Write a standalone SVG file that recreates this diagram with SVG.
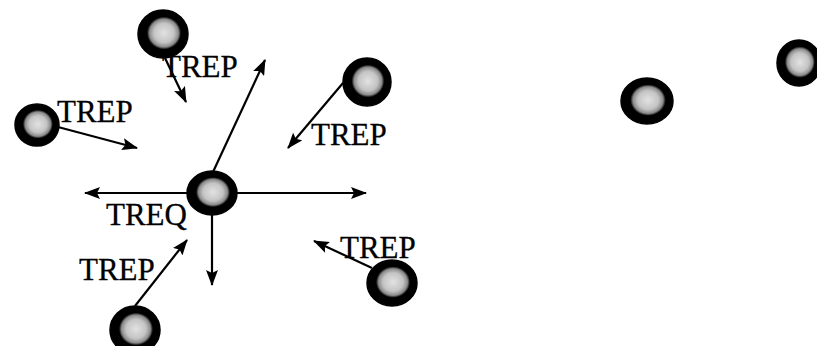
<svg xmlns="http://www.w3.org/2000/svg" width="817" height="346" viewBox="0 0 817 346">
<style>
.lbl{font-family:"Liberation Serif","Times New Roman",serif;font-size:31px;fill:#000;stroke:#000;stroke-width:0.3}
.cn{stroke:#000;stroke-width:2.2;fill:none;marker-end:url(#ah)}
.nd{fill:url(#speck);stroke:#000;stroke-width:1.5}
</style>
<defs>
<marker id="ah" viewBox="0 0 16 12" refX="15" refY="6" markerWidth="16" markerHeight="12" markerUnits="userSpaceOnUse" orient="auto">
<path d="M0,0 L16,6 L0,12 L3,6 Z" fill="#000"/>
</marker>
<radialGradient id="speck" cx="0.52" cy="0.48" r="0.5">
<stop offset="0" stop-color="#e2e2e2"/>
<stop offset="0.4" stop-color="#c4c4c4"/>
<stop offset="0.58" stop-color="#8a8a8a"/>
<stop offset="0.68" stop-color="#000"/>
<stop offset="1" stop-color="#000"/>
</radialGradient>
</defs>
<rect width="817" height="346" fill="#fff"/>
<g id="connectors">
<line class="cn" x1="213" y1="172" x2="265" y2="60"/>
<line class="cn" x1="188" y1="193" x2="85" y2="193"/>
<line class="cn" x1="236" y1="193" x2="366" y2="193"/>
<line class="cn" x1="212" y1="214" x2="212" y2="285"/>
<line class="cn" x1="165" y1="58" x2="186" y2="102"/>
<line class="cn" x1="58" y1="127" x2="137" y2="148"/>
<line class="cn" x1="343" y1="83" x2="288" y2="148"/>
<line class="cn" x1="135" y1="306" x2="187" y2="240"/>
<line class="cn" x1="372" y1="268" x2="314" y2="241"/>
</g>
<g id="node-top"><ellipse class="nd" cx="163" cy="34" rx="25" ry="24"/></g>
<g id="node-left"><ellipse class="nd" cx="37" cy="125" rx="22" ry="21"/></g>
<g id="node-right-top"><ellipse class="nd" cx="367" cy="82" rx="24" ry="24"/></g>
<g id="node-center"><ellipse class="nd" cx="212" cy="193" rx="25" ry="22"/></g>
<g id="node-bottom-left"><ellipse class="nd" cx="135" cy="330" rx="25" ry="24"/></g>
<g id="node-bottom-right"><ellipse class="nd" cx="392" cy="283" rx="25" ry="23"/></g>
<g id="node-far-1"><ellipse class="nd" cx="647" cy="101" rx="26" ry="23"/></g>
<g id="node-far-2"><ellipse class="nd" cx="799" cy="63" rx="22" ry="23"/></g>
<g id="labels">
<text class="lbl" x="162" y="77">TREP</text>
<text class="lbl" x="57" y="122">TREP</text>
<text class="lbl" x="311" y="145">TREP</text>
<text class="lbl" x="106" y="225">TREQ</text>
<text class="lbl" x="79" y="280">TREP</text>
<text class="lbl" x="340" y="258">TREP</text>
</g>
</svg>
